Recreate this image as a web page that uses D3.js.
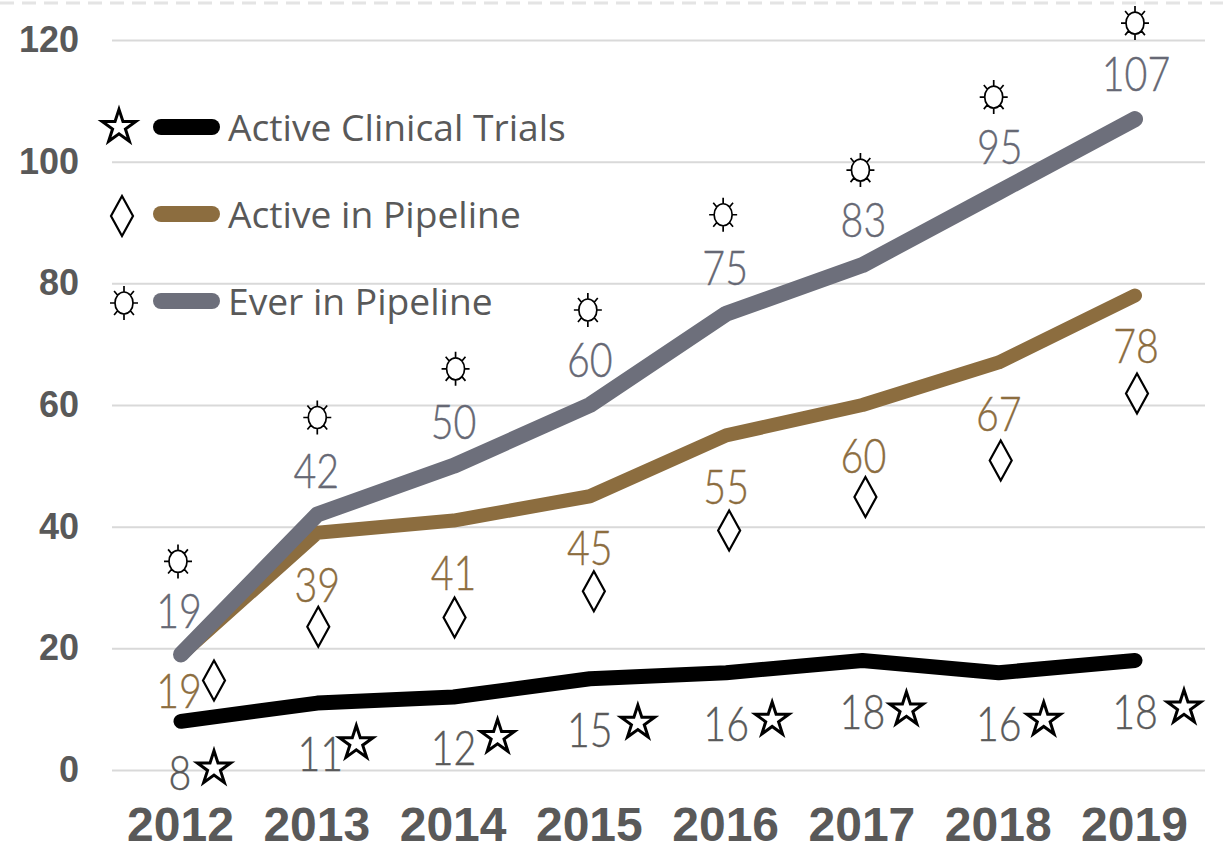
<!DOCTYPE html>
<html>
<head>
<meta charset="utf-8">
<script src="https://cdn.jsdelivr.net/npm/d3@7"></script>
<style>
    html, body { margin: 0; padding: 0; background: #fff; }
    svg { display: block; }
</style>
</head>
<body>
<div id="chart"></div>
<script>
const years = ['2012', '2013', '2014', '2015', '2016', '2017', '2018', '2019'];
const yTicks = [0, 20, 40, 60, 80, 100, 120];
const activeClinicalTrials = [8, 11, 12, 15, 16, 18, 16, 18];
const activeInPipeline = [19, 39, 41, 45, 55, 60, 67, 78];
const everInPipeline = [19, 42, 50, 60, 75, 83, 95, 107];
const seriesNames = ['Active Clinical Trials', 'Active in Pipeline', 'Ever in Pipeline'];

const width = 1223, height = 849;
const black = '#000000', gold = '#8c6d3f', slate = '#6d6f7b', textGrey = '#595959';
const labelFont = 'Lato, "Open Sans", sans-serif';

const x = d3.scalePoint().domain(years).range([181, 1135]);
const y = d3.scaleLinear().domain([0, 120]).range([770, 40]);

const svg = d3.select('#chart').append('svg')
    .attr('width', width)
    .attr('height', height);

// Faint dashed edge along the top of the picture
svg.append('line')
    .attr('x1', 0).attr('x2', width)
    .attr('y1', 3).attr('y2', 3)
    .attr('stroke', '#e4e4e4')
    .attr('stroke-width', 3)
    .attr('stroke-dasharray', '14 8');

// Y axis, the ticks are stretched into gridlines
const yAxis = svg.append('g')
    .attr('transform', 'translate(112,0)')
    .call(d3.axisLeft(y).tickValues(yTicks).tickSize(-1093).tickPadding(33));
yAxis.select('.domain').remove();
yAxis.selectAll('line').attr('stroke', '#d9d9d9').attr('stroke-width', 2);
yAxis.selectAll('text')
    .attr('fill', textGrey)
    .style('font', 'bold 36px "Liberation Sans", Arial, sans-serif');

// X axis
const xAxis = svg.append('g')
    .attr('transform', 'translate(-1,770)')
    .call(d3.axisBottom(x).tickSize(0).tickPadding(37));
xAxis.select('.domain').remove();
xAxis.selectAll('text')
    .attr('fill', textGrey)
    .style('font', 'bold 48px "Liberation Sans", Arial, sans-serif');

// Marker shapes
const starPath = d3.symbol().type(d3.symbolStar).size(350)();
const diamondPath = 'M0,-20L11,0L0,20L-11,0Z';
const sunPath = d3.range(8).map(function(i) {
    const a = i * Math.PI / 4;
    return 'M' + 9 * Math.cos(a) + ',' + 11 * Math.sin(a) + 'L' + 14 * Math.cos(a) + ',' + 17 * Math.sin(a);
}).join('') + 'M9,0A9,11 0 1,1 -9,0A9,11 0 1,1 9,0Z';

function drawMarker(group, path, px, py, strokeWidth) {
    group.append('path')
        .attr('d', path)
        .attr('transform', 'translate(' + px + ',' + py + ')')
        .attr('fill', '#fff')
        .attr('stroke', '#000')
        .attr('stroke-width', strokeWidth);
}

// Offsets of the hand placed labels and markers, one per year
const series = [
    { name: seriesNames[2], values: everInPipeline, color: slate, labelColor: '#666874', path: sunPath, sw: 1.7, lineWidth: 16,
      labelDx: [-2, -1, 0, 0, -1, 1, 1, 1],
      labelDy: [-44, -44, -44, -45, -46, -45, -45, -45],
      markDx: [-3, 0, 2, -2, -3, -2, -5, 0],
      markDy: [-93, -97, -97, -95, -99, -95, -95, -96] },
    { name: seriesNames[1], values: activeInPipeline, color: gold, labelColor: '#8c6d3f', path: diamondPath, sw: 2.2, lineWidth: 14,
      labelDx: [-2, 0, 0, 0, 0, 1, 0, 1],
      labelDy: [36, 52, 52, 51, 51, 51, 51, 50],
      markDx: [33, 1, 1, 4, 3, 3, 2, 2],
      markDy: [26, 94, 97, 95, 95, 92, 98, 98] },
    { name: seriesNames[0], values: activeClinicalTrials, color: black, labelColor: textGrey, path: starPath, sw: 3, lineWidth: 15,
      labelDx: [-1, 3, 0, 0, 0, 0, 0, 0],
      labelDy: [51, 51, 51, 51, 51, 51, 51, 51],
      markDx: [33, 39, 44, 48, 46, 44, 45, 49],
      markDy: [47, 40, 40, 44, 47, 49, 47, 47] }
];

const line = d3.line()
    .x(function(d, i) { return x(years[i]); })
    .y(function(d) { return y(d); });

// Gold goes below slate, black is on its own
[series[1], series[0], series[2]].forEach(function(s) {
    svg.append('path')
        .datum(s.values)
        .attr('d', line)
        .attr('fill', 'none')
        .attr('stroke', s.color)
        .attr('stroke-width', s.lineWidth)
        .attr('stroke-linecap', 'round')
        .attr('stroke-linejoin', 'round');
});

// Value labels and markers
series.forEach(function(s) {
    const g = svg.append('g');
    s.values.forEach(function(v, i) {
        const px = x(years[i]), py = y(v);
        g.append('text')
            .attr('transform', 'translate(' + (px + s.labelDx[i]) + ',' + (py + s.labelDy[i]) + ') scale(0.82,1)')
            .attr('text-anchor', 'middle')
            .attr('dy', '0.36em')
            .attr('fill', s.labelColor)
            .attr('stroke', s.labelColor)
            .attr('stroke-width', 0.4)
            .style('font', '300 48px ' + labelFont)
            .text(v);
        drawMarker(g, s.path, px + s.markDx[i], py + s.markDy[i], s.sw);
    });
});

// Legend
const legendRows = d3.scalePoint().domain(seriesNames).range([127, 301]);
const legendMarkX = [119, 122, 124];
const legendMarkDy = [0, 2, 2];
series.forEach(function(s) {
    const ly = legendRows(s.name);
    const row = seriesNames.indexOf(s.name);
    svg.append('line')
        .attr('x1', 161).attr('x2', 212)
        .attr('y1', ly).attr('y2', ly)
        .attr('stroke', s.color)
        .attr('stroke-width', 16)
        .attr('stroke-linecap', 'round');
    svg.append('text')
        .attr('x', 228)
        .attr('y', ly + 1)
        .attr('dy', '0.35em')
        .attr('fill', textGrey)
        .style('font', '37.2px "Open Sans", sans-serif')
        .text(s.name);
    drawMarker(svg, s.path, legendMarkX[row], ly + legendMarkDy[row], s.sw);
});
</script>
</body>
</html>
